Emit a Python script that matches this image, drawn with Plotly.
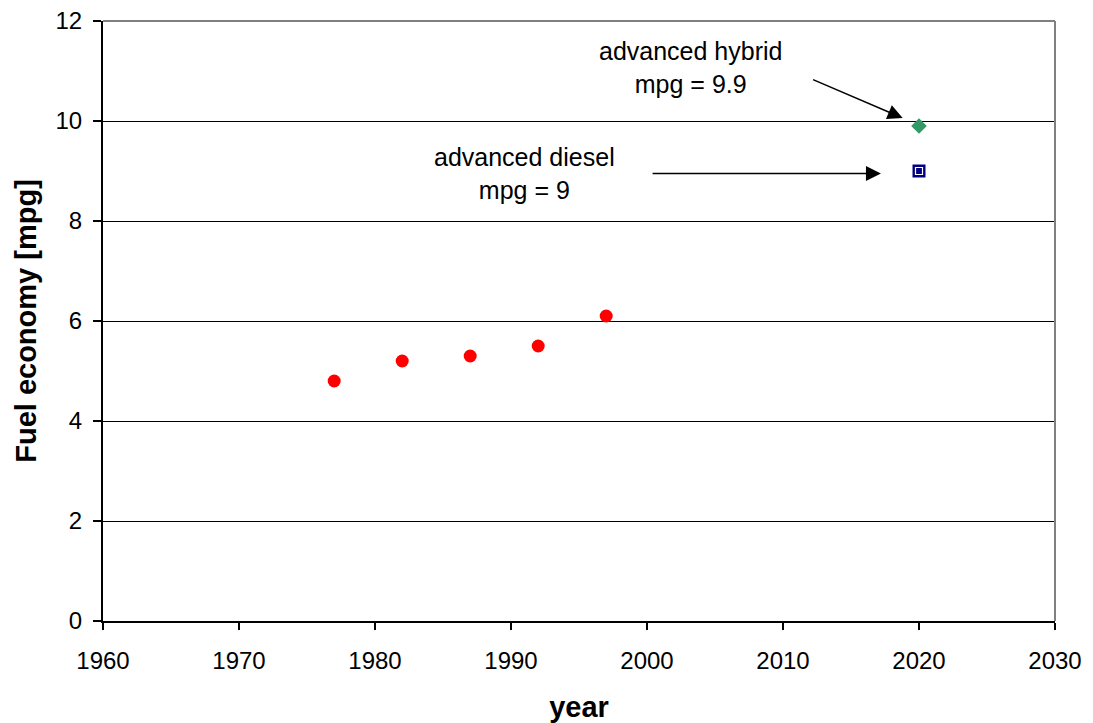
import plotly.graph_objects as go

hist_years = [1977, 1982, 1987, 1992, 1997]
hist_mpg = [4.8, 5.2, 5.3, 5.5, 6.1]
hybrid_year = [2020]
hybrid_mpg = [9.9]
diesel_year = [2020]
diesel_mpg = [9.0]
x_ticks = [1960, 1970, 1980, 1990, 2000, 2010, 2020, 2030]
y_ticks = [0, 2, 4, 6, 8, 10, 12]

FONT = "Liberation Sans, Arial, sans-serif"

fig = go.Figure()
fig.add_trace(go.Scatter(x=hist_years, y=hist_mpg, mode="markers",
                         marker=dict(symbol="circle", size=13, color="#ff0000",
                                     line=dict(width=0)), showlegend=False))
fig.add_trace(go.Scatter(x=hybrid_year, y=hybrid_mpg, mode="markers",
                         marker=dict(symbol="diamond", size=12, color="#339966",
                                     line=dict(width=0)), showlegend=False))
fig.add_trace(go.Scatter(x=diesel_year, y=diesel_mpg, mode="markers",
                         marker=dict(symbol="square", size=13, color="#000080",
                                     line=dict(width=0)), showlegend=False))
fig.add_trace(go.Scatter(x=diesel_year, y=diesel_mpg, mode="markers",
                         marker=dict(symbol="square-open", size=7, color="#ffffff",
                                     line=dict(width=1.2, color="#ffffff")), showlegend=False))

# Annotations
fig.add_annotation(x=2003.2, y=11.07, xref="x", yref="y",
                   text="advanced hybrid<br>mpg = 9.9", showarrow=False,
                   font=dict(family=FONT, size=25, color="black"), align="center")
fig.add_annotation(x=1991.0, y=8.95, xref="x", yref="y",
                   text="advanced diesel<br>mpg = 9", showarrow=False,
                   font=dict(family=FONT, size=25, color="black"), align="center")
fig.add_annotation(x=2018.8, y=10.06, ax=2012.1, ay=10.84, xref="x", yref="y",
                   axref="x", ayref="y", text="", showarrow=True,
                   arrowhead=2, arrowsize=2, arrowwidth=1.5, arrowcolor="black")
fig.add_annotation(x=2017.2, y=8.95, ax=2000.3, ay=8.95, xref="x", yref="y",
                   axref="x", ayref="y", text="", showarrow=True,
                   arrowhead=2, arrowsize=2, arrowwidth=1.5, arrowcolor="black")

fig.update_xaxes(range=[1960, 2030], tickvals=x_ticks, ticks="outside", ticklen=7,
                 tickwidth=2, tickcolor="black", showline=True, linecolor="black",
                 linewidth=2, mirror=False, showgrid=False, zeroline=False,
                 ticklabelstandoff=10,
                 tickfont=dict(family=FONT, size=24, color="black"),
                 title=dict(text="<b>year</b>", font=dict(family=FONT, size=29, color="black"),
                            standoff=25))
fig.update_yaxes(range=[0, 12], tickvals=y_ticks, ticks="outside", ticklen=8,
                 tickwidth=2, tickcolor="black", showline=True, linecolor="black",
                 linewidth=2, showgrid=True, gridcolor="black", gridwidth=1,
                 zeroline=False, ticklabelstandoff=6,
                 tickfont=dict(family=FONT, size=24, color="black"),
                 title=dict(text="<b>Fuel economy [mpg]</b>",
                            font=dict(family=FONT, size=29, color="black"), standoff=10))

# gray border top and right
fig.add_shape(type="line", xref="paper", yref="paper", x0=0, x1=1, y0=1, y1=1,
              line=dict(color="#808080", width=2))
fig.add_shape(type="line", xref="paper", yref="paper", x0=1, x1=1, y0=0, y1=1,
              line=dict(color="#808080", width=2))

fig.update_layout(width=1093, height=723, plot_bgcolor="white", paper_bgcolor="white",
                  margin=dict(l=103, r=38, t=21, b=102, autoexpand=False), showlegend=False)

fig.write_html("out.html", config={"displayModeBar": False},
               post_script="document.body.style.margin='0';document.body.style.overflow='hidden';")
